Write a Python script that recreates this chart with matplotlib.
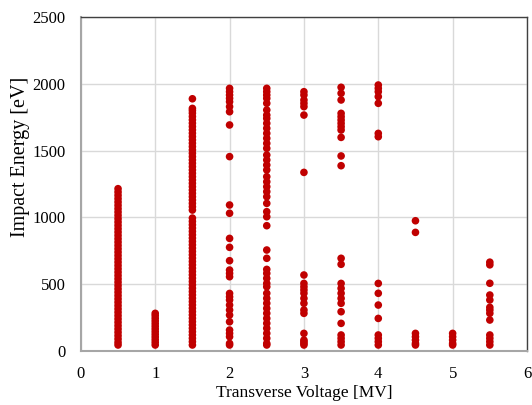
import matplotlib
matplotlib.use("Agg")
import matplotlib.pyplot as plt

# Impact energy samples [eV] per transverse voltage [MV]
v05 = [45, 65, 90, 115, 140, 165, 190, 215, 240, 265, 290, 315, 340, 365, 390, 415, 440,
       465, 490, 515, 540, 565, 590, 615, 640, 665, 690, 715, 740, 765, 790, 815, 840, 865,
       890, 915, 940, 965, 990, 1015, 1040, 1065, 1090, 1115, 1140, 1165, 1190, 1215]
v10 = [45, 65, 85, 105, 125, 145, 165, 185, 205, 225, 245, 265, 282]
v15 = [45, 70, 95, 120, 145, 170, 195, 220, 245, 270, 295, 320, 345, 370, 395, 420, 445,
       470, 495, 520, 545, 570, 595, 620, 645, 670, 695, 720, 745, 770, 795, 820, 845, 870,
       895, 920, 945, 970, 995, 1055, 1080, 1105, 1130, 1155, 1180, 1205, 1230, 1255, 1280,
       1305, 1330, 1355, 1380, 1405, 1430, 1455, 1480, 1505, 1530, 1555, 1580, 1605, 1630,
       1655, 1680, 1705, 1730, 1755, 1780, 1800, 1816, 1888]
v20 = [1966, 1941, 1916, 1891, 1866, 1829, 1791, 1692, 1455, 1093, 1031, 843, 776, 676,
       606, 581, 556, 431, 406, 382, 344, 307, 269, 219, 157, 132, 107, 57, 45]
v25 = [1966, 1941, 1916, 1891, 1854, 1804, 1766, 1741, 1704, 1667, 1629, 1592, 1554, 1517,
       1467, 1430, 1392, 1355, 1305, 1267, 1230, 1193, 1155, 1105, 1043, 1005, 938, 756,
       694, 611, 581, 544, 506, 481, 432, 394, 357, 319, 282, 244, 207, 170, 132, 95, 57, 45]
v30 = [1941, 1916, 1879, 1854, 1829, 1766, 1337, 569, 506, 481, 457, 432, 394, 357, 307,
       282, 132, 82, 70, 57, 45]
v35 = [1974, 1929, 1879, 1779, 1754, 1729, 1704, 1679, 1654, 1599, 1460, 1387, 694, 649,
       506, 469, 432, 394, 357, 294, 207, 120, 95, 70, 45]
v40 = [1991, 1966, 1941, 1904, 1854, 1629, 1604, 506, 432, 344, 244, 120, 95, 70, 45]
v45 = [975, 888, 132, 107, 82, 57, 45]
v50 = [132, 107, 82, 57, 45]
v55 = [665, 645, 507, 419, 382, 327, 307, 282, 232, 120, 95, 70, 45]

voltages = [0.5, 1.0, 1.5, 2.0, 2.5, 3.0, 3.5, 4.0, 4.5, 5.0, 5.5]
energies = [v05, v10, v15, v20, v25, v30, v35, v40, v45, v50, v55]

x_ticks = [0, 1, 2, 3, 4, 5, 6]
y_ticks = [0, 500, 1000, 1500, 2000, 2500]

plt.rcParams['font.family'] = ['Liberation Serif', 'DejaVu Serif']

fig = plt.figure(figsize=(5.32, 4.05), dpi=100)
ax = fig.add_axes([0.152, 0.1333, 0.8386, 0.8247])

xs, ys = [], []
for v, e in zip(voltages, energies):
    xs.extend([v] * len(e))
    ys.extend(e)
ax.scatter(xs, ys, s=30, color='#C00000', edgecolors='none', zorder=3)

ax.set_xlim(0, 6)
ax.set_ylim(0, 2500)
ax.set_xticks(x_ticks)
ax.set_yticks(y_ticks)
ax.grid(True, color='#d9d9d9', linewidth=1, zorder=0)
ax.set_axisbelow(True)
ax.tick_params(length=0, labelsize=12, pad=11)

for side in ['top', 'right']:
    ax.spines[side].set_color('#404040')
    ax.spines[side].set_linewidth(1.0)
for side in ['left', 'bottom']:
    ax.spines[side].set_color('#a6a6a6')
    ax.spines[side].set_linewidth(1.5)

ax.set_xlabel('Transverse Voltage [MV]', fontsize=12.5, labelpad=2)
ax.set_ylabel('Impact Energy [eV]', fontsize=14.5)
ax.yaxis.set_label_coords(-0.114, 0.581)

fig.savefig('out.png', dpi=100)
